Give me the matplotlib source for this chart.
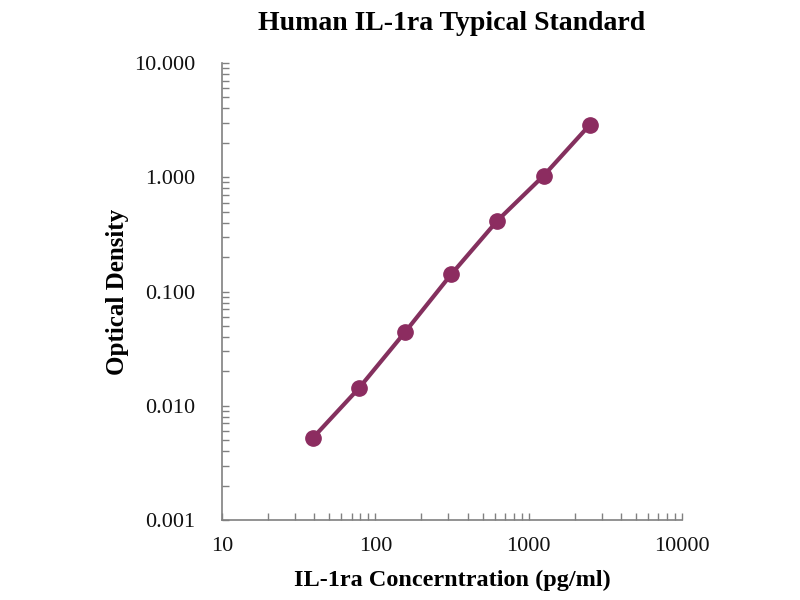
import numpy as np
import matplotlib
matplotlib.use("Agg")
import matplotlib.pyplot as plt
from matplotlib.ticker import FixedLocator, LogLocator, FuncFormatter, NullFormatter

# standard curve data
concentration = [39, 78, 156, 312, 625, 1250, 2500]
optical_density = [0.0052, 0.0142, 0.044, 0.141, 0.417, 1.03, 2.87]

x_ticks = [10, 100, 1000, 10000]
y_ticks = [0.001, 0.01, 0.1, 1, 10]

plt.rcParams["font.family"] = ["Liberation Serif", "DejaVu Serif"]

fig = plt.figure(figsize=(8, 6), dpi=100)
ax = fig.add_axes([0.2775, 0.1333, 0.575, 0.7617])

curve_color = "#8C2C60"
ax.plot(concentration, optical_density, color="#84305E", linewidth=3,
        marker="o", markersize=11, markerfacecolor=curve_color,
        markeredgecolor=curve_color)

ax.set_xscale("log")
ax.set_yscale("log")
ax.set_xlim(10, 10000)
ax.set_ylim(0.001, 10)

ax.xaxis.set_major_locator(FixedLocator(x_ticks))
ax.yaxis.set_major_locator(FixedLocator(y_ticks))
ax.xaxis.set_minor_locator(LogLocator(base=10, subs=np.arange(2, 10)))
ax.yaxis.set_minor_locator(LogLocator(base=10, subs=np.arange(2, 10)))
ax.xaxis.set_major_formatter(FuncFormatter(lambda v, p: f"{v:g}"))
ax.yaxis.set_major_formatter(FuncFormatter(lambda v, p: f"{v:.3f}"))
ax.xaxis.set_minor_formatter(NullFormatter())
ax.yaxis.set_minor_formatter(NullFormatter())

for side in ["top", "right"]:
    ax.spines[side].set_visible(False)
for side in ["left", "bottom"]:
    ax.spines[side].set_color("#808080")
    ax.spines[side].set_linewidth(1.2)

ax.tick_params(axis="both", which="both", direction="in", color="#808080",
               width=1, labelsize=16, labelcolor="#111111", length=5)
ax.tick_params(axis="y", which="major", pad=19)
ax.tick_params(axis="x", which="major", pad=12)

ax.set_title("Human IL-1ra Typical Standard", fontsize=20, fontweight="bold", pad=24)
ax.set_xlabel("IL-1ra Concerntration (pg/ml)", fontsize=17.5, fontweight="bold", labelpad=10)
ax.set_ylabel("Optical Density", fontsize=18, fontweight="bold", labelpad=4)

fig.savefig("out.png", dpi=100)
